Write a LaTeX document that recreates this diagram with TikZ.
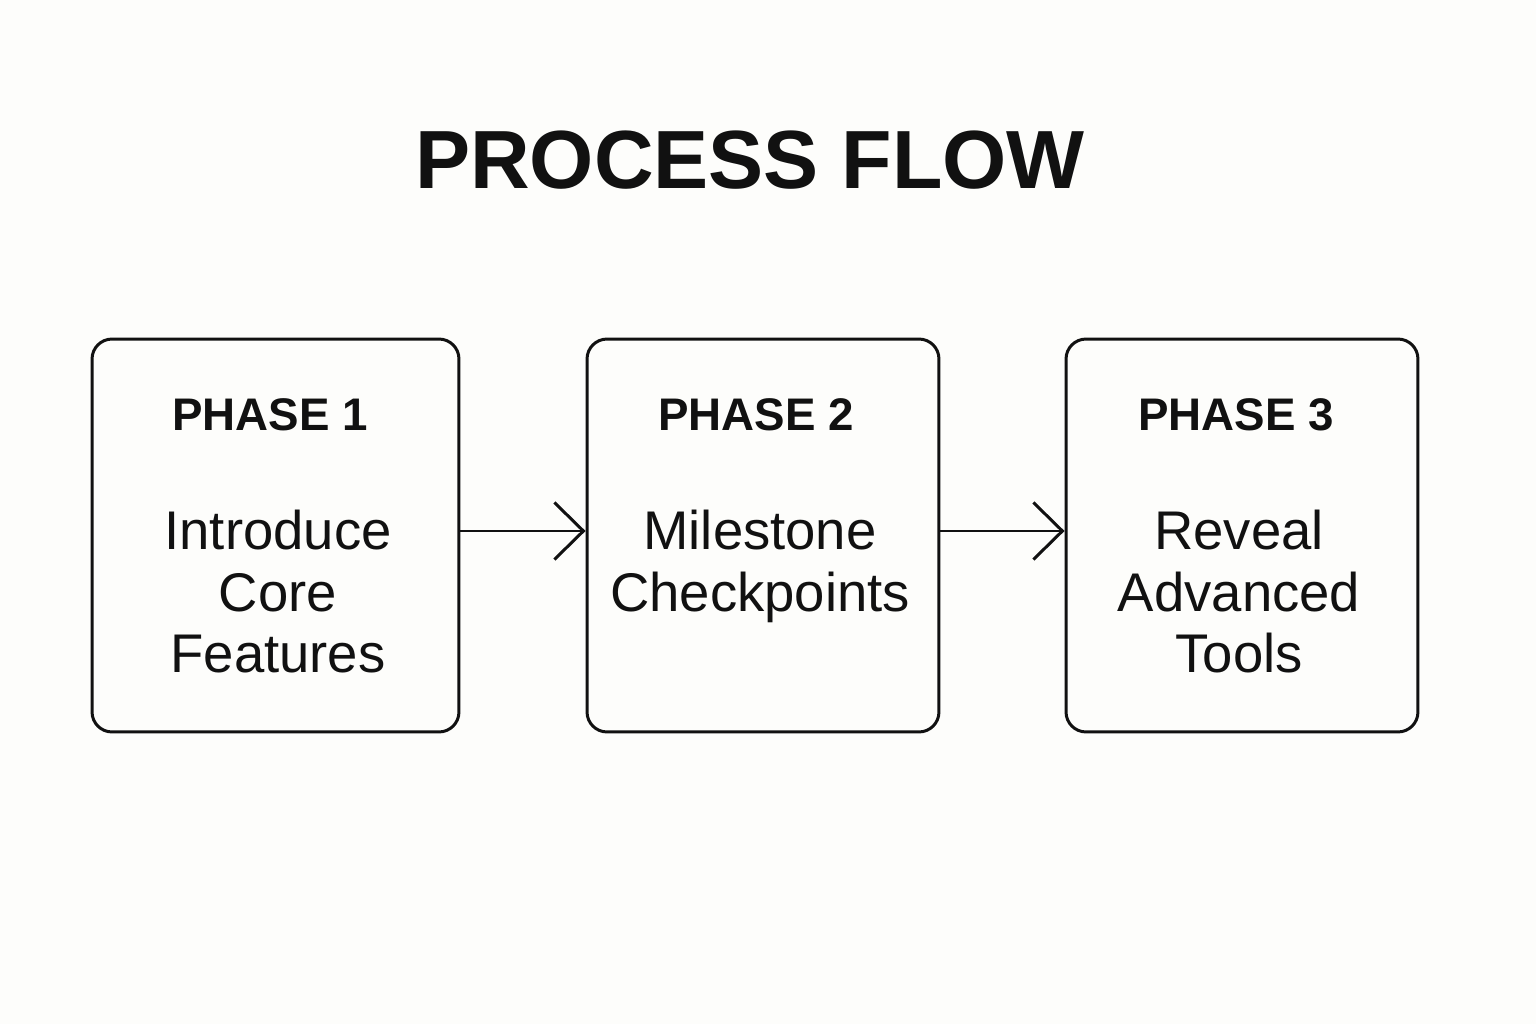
\documentclass[tikz,border=0pt]{standalone}
\usepackage{fontspec}
\setmainfont{Liberation Sans}
\usetikzlibrary{arrows.meta}
\definecolor{paper}{HTML}{FDFDFB}
\definecolor{ink}{HTML}{111111}

\begin{document}
\begin{tikzpicture}[
  x=0.02cm, y=-0.02cm,
  phase/.style={draw=ink, line width=1.7pt, rounded corners=0.4cm, minimum height=7.86cm, inner sep=0pt},
  head/.style={font=\fontsize{26}{30}\selectfont\bfseries, text=ink},
  body/.style={font=\fontsize{31}{35}\selectfont, text=ink, align=center, anchor=north},
  flow/.style={draw=ink, line width=1.7pt, -{Straight Barb[length=5.8mm,width=11.4mm,line width=1.7pt]}}
]
  \fill[paper] (0,0) rectangle (1536,1024);
  \node[font=\fontsize{47}{50}\selectfont\bfseries, text=ink] (title) at (750,160) {PROCESS FLOW};
  % three phases
  \node[phase, minimum width=7.34cm] (p1) at (275.5,535.5) {};
  \node[phase, minimum width=7.04cm] (p2) at (763,535.5) {};
  \node[phase, minimum width=7.04cm] (p3) at (1242,535.5) {};
  \node[head] (h1) at (270,415) {PHASE 1};
  \node[head] (h2) at (756,415) {PHASE 2};
  \node[head] (h3) at (1236,415) {PHASE 3};
  \node[body] (b1) at (278,504) {Introduce\\Core\\Features};
  \node[body] (b2) at (760,504) {Milestone\\Checkpoints};
  \node[body] (b3) at (1239,504) {Reveal\\Advanced\\Tools};
  \draw[flow] (p1.east |- 0,531) -- (p2.west |- 0,531);
  \draw[flow] (p2.east |- 0,531) -- (p3.west |- 0,531);
\end{tikzpicture}
\end{document}
